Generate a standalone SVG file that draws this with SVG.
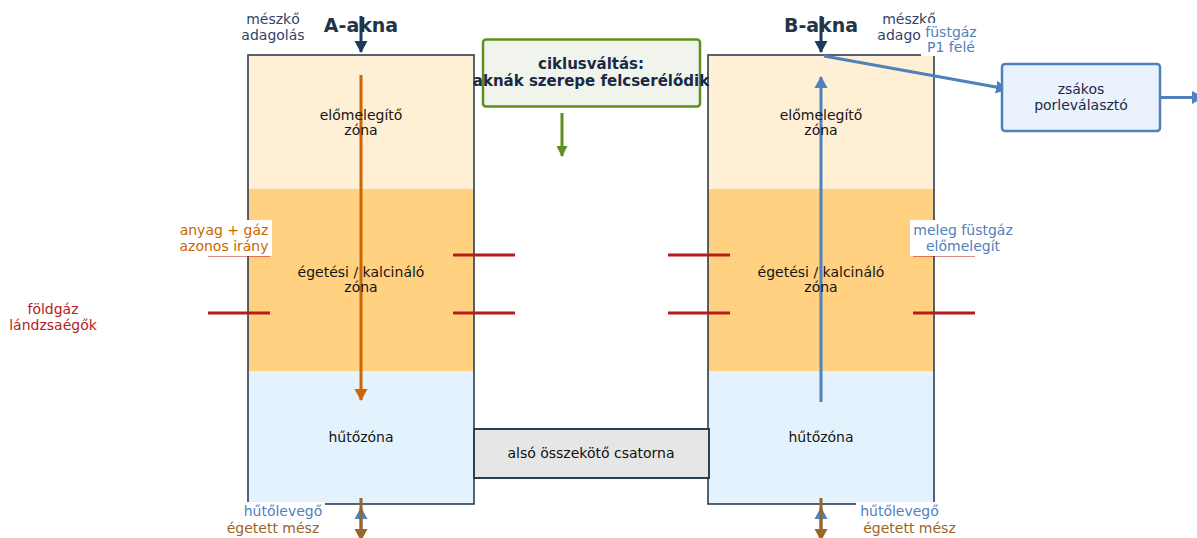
<svg xmlns="http://www.w3.org/2000/svg" width="1197" height="538" viewBox="0 0 1197 538">
<style>
text{font-family:"DejaVu Sans",Verdana,sans-serif;text-anchor:middle;font-size:14px}
.z{fill:#151515}
.title{font-size:19px;font-weight:bold;fill:#243447}
.navy{fill:#2f4468}.blue{fill:#4f81bd}.or{fill:#cc6600}.red{fill:#b71c1c}.br{fill:#9c6426}
.shaft{fill:none;stroke:#2c3e50;stroke-width:1.6}
.l{fill:none;stroke-width:3}
.lance{stroke:#b71c1c;stroke-width:3.200;fill:none}
.halo{fill:#fff}
</style>
<defs>
<marker id="an" markerUnits="userSpaceOnUse" markerWidth="12" markerHeight="14" refX="11" refY="7" orient="auto"><path d="M0 0.500L12 7L0 13.500z" fill="#1f3a5f"/></marker>
<marker id="ao" markerUnits="userSpaceOnUse" markerWidth="12" markerHeight="14" refX="11" refY="7" orient="auto"><path d="M0 0.500L12 7L0 13.500z" fill="#cc6600"/></marker>
<marker id="ab" markerUnits="userSpaceOnUse" markerWidth="12" markerHeight="14" refX="11" refY="7" orient="auto"><path d="M0 0.500L12 7L0 13.500z" fill="#4f81bd"/></marker>
<marker id="ag" markerUnits="userSpaceOnUse" markerWidth="12" markerHeight="14" refX="11" refY="7" orient="auto"><path d="M1 1.500L12 7L1 12.500z" fill="#5f8f1f"/></marker>
<marker id="ar" markerUnits="userSpaceOnUse" markerWidth="12" markerHeight="14" refX="11" refY="7" orient="auto"><path d="M0 0.500L12 7L0 13.500z" fill="#9c6426"/></marker>
</defs>
<g id="shaft-a">
<rect x="248" y="55" width="226" height="134" fill="#ffefd5"/>
<rect x="248" y="189" width="226" height="182" fill="#ffd180"/>
<rect x="248" y="371" width="226" height="133" fill="#e3f2fd"/>
<rect class="shaft" x="248" y="55" width="226" height="449"/>
</g>
<g id="shaft-b">
<rect x="708" y="55" width="226" height="134" fill="#ffefd5"/>
<rect x="708" y="189" width="226" height="182" fill="#ffd180"/>
<rect x="708" y="371" width="226" height="133" fill="#e3f2fd"/>
<rect class="shaft" x="708" y="55" width="226" height="449"/>
</g>
<g id="connectors">
<path class="lance" d="M208 313H270M453 255H515M453 313H515M668 255H730M668 313H730M913 255H975M913 313H975M208 255H270"/>
<path class="l" stroke="#1f3a5f" marker-end="url(#an)" d="M361 16V52"/>
<path class="l" stroke="#1f3a5f" marker-end="url(#an)" d="M821 16V52"/>
<path class="l" stroke="#cc6600" marker-end="url(#ao)" d="M361 75V400"/>
<path class="l" stroke="#4f81bd" marker-end="url(#ab)" d="M821 402V77"/>
<path class="l" stroke="#4f81bd" marker-end="url(#ab)" d="M824 56L1007 89"/>
<path class="l" stroke="#4f81bd" marker-end="url(#ab)" d="M1160 97.500H1203"/>
<path class="l" stroke="#5f8f1f" marker-end="url(#ag)" stroke-width="2.500" d="M562 113V156"/>
<path class="l" stroke="#4f81bd" marker-end="url(#ab)" d="M361 536V508"/>
<path class="l" stroke="#4f81bd" marker-end="url(#ab)" d="M821 536V508"/>
<path class="l" stroke="#9c6426" marker-end="url(#ar)" d="M361 498V540"/>
<path class="l" stroke="#9c6426" marker-end="url(#ar)" d="M821 498V540"/>
</g>
<g id="zones-a">
<text class="z" x="361" y="120">előmelegítő</text><text class="z" x="361" y="135">zóna</text>
<text class="z" x="361" y="277">égetési / kalcináló</text><text class="z" x="361" y="292">zóna</text>
<text class="z" x="361" y="442">hűtőzóna</text>
</g>
<g id="zones-b">
<text class="z" x="821" y="120">előmelegítő</text><text class="z" x="821" y="135">zóna</text>
<text class="z" x="821" y="277">égetési / kalcináló</text><text class="z" x="821" y="292">zóna</text>
<text class="z" x="821" y="442">hűtőzóna</text>
</g>
<g id="label-a-title"><text class="title" x="361" y="32">A-akna</text></g>
<g id="label-b-title"><text class="title" x="821" y="32">B-akna</text></g>
<g id="label-a-feed"><text class="navy" x="273" y="24">mészkő</text><text class="navy" x="273" y="40">adagolás</text></g>
<g id="label-b-feed"><text class="navy" x="909" y="24">mészkő</text><text class="navy" x="909" y="40">adagolás</text></g>
<g id="label-fust">
<rect class="halo" x="921" y="23" width="59" height="33"/>
<text class="blue" x="951" y="37">füstgáz</text><text class="blue" x="951" y="52">P1 felé</text>
</g>
<g id="label-anyag">
<rect class="halo" x="176" y="220" width="96" height="36"/>
<text class="or" x="224" y="235">anyag + gáz</text><text class="or" x="224" y="251">azonos irány</text>
</g>
<g id="label-meleg">
<rect class="halo" x="910" y="220" width="106" height="36"/>
<text class="blue" x="963" y="235">meleg füstgáz</text><text class="blue" x="963" y="251">előmelegít</text>
</g>
<g id="label-lance"><text class="red" x="53" y="314">földgáz</text><text class="red" x="53" y="330">lándzsaégők</text></g>
<g id="label-air-a">
<rect class="halo" x="243" y="502" width="82" height="19"/>
<text class="blue" x="283" y="516">hűtőlevegő</text>
</g>
<g id="label-lime-a"><text class="br" x="273" y="533">égetett mész</text></g>
<g id="label-air-b">
<rect class="halo" x="856" y="502" width="86" height="19"/>
<text class="blue" x="899.500" y="516">hűtőlevegő</text>
</g>
<g id="label-lime-b"><text class="br" x="909.500" y="533">égetett mész</text></g>
<g id="cycle">
<rect x="483" y="39.500" width="217" height="67" rx="3" fill="#f1f4ec" stroke="#5f8f1f" stroke-width="2.500"/>
<text x="591" y="69" font-weight="bold" style="font-size:15px" fill="#1a2a44">ciklusváltás:</text>
<text x="591" y="86" font-weight="bold" style="font-size:15px" fill="#1a2a44">aknák szerepe felcserélődik</text>
</g>
<g id="channel">
<rect x="474" y="429" width="235" height="49" fill="#e6e6e6" stroke="#2c3e50" stroke-width="2"/>
<text x="591" y="458" fill="#111">alsó összekötő csatorna</text>
</g>
<g id="filter">
<rect x="1002" y="64" width="158" height="67" rx="3" fill="#eaf2fd" stroke="#4f81bd" stroke-width="2.500"/>
<text x="1081" y="94" fill="#1a2a44">zsákos</text>
<text x="1081" y="110" fill="#1a2a44">porleválasztó</text>
</g>
</svg>
